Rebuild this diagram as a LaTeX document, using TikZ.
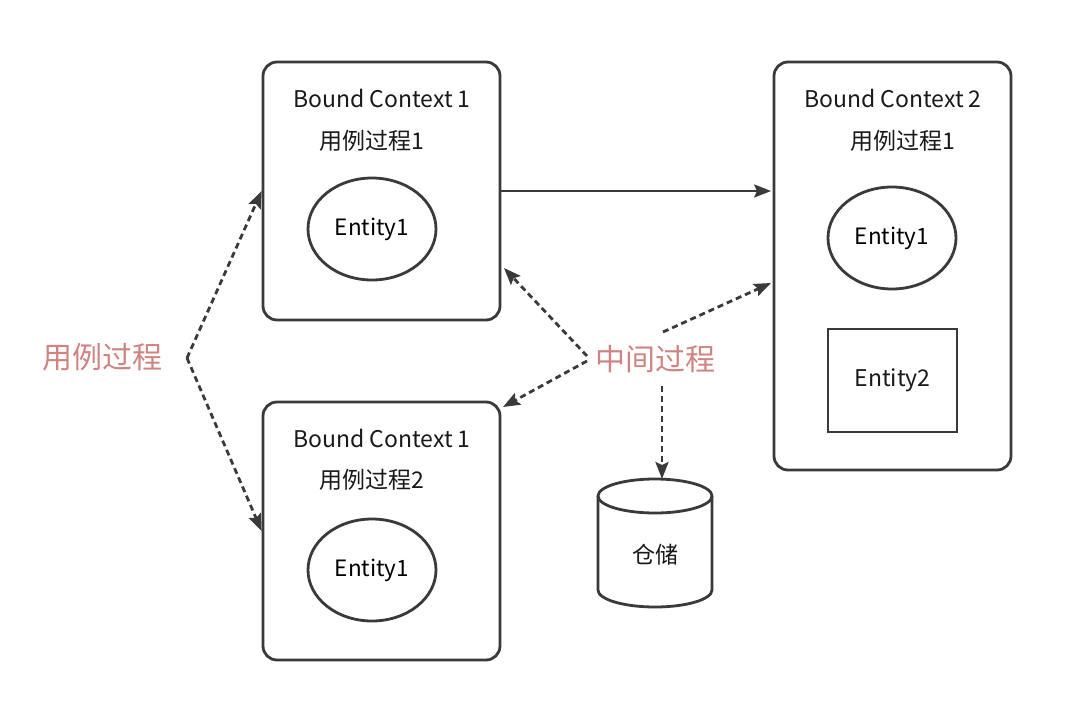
\documentclass[tikz,border=0pt]{standalone}
\usepackage{fontspec}
\setmainfont{Noto Sans CJK SC}
\usetikzlibrary{arrows.meta,calc,shapes.geometric}
\definecolor{ln}{RGB}{58,58,58}
\definecolor{pk}{RGB}{208,132,130}
\begin{document}
\begin{tikzpicture}[x=1pt,y=-1pt,
  ctxbox/.style={draw=ln,line width=2.8pt,rounded corners=14pt,minimum width=237pt,minimum height=258pt},
  ent/.style={draw=ln,line width=2.8pt,ellipse,minimum width=128pt,minimum height=102pt,font=\fontsize{22.5}{26}\selectfont},
  txt/.style={font=\fontsize{23}{26}\selectfont,text=black!90},
  lbl/.style={font=\fontsize{30}{34}\selectfont,text=pk},
  solidarrow/.style={draw=ln,line width=2.8pt,shorten >=1.5pt,-{Stealth[length=17pt,width=13pt,inset=3pt]}},
  dasharrow/.style={draw=ln,line width=2.8pt,dash pattern=on 6pt off 4pt,-{Stealth[length=17pt,width=13pt,inset=3pt]}}
]
\useasboundingbox (0,0) rectangle (1080,712);
\fill[white] (0,0) rectangle (1080,712);

% boxes
\node[ctxbox] (A) at (381.5,191) {};
\node[ctxbox] (B) at (381.5,531) {};
\node[ctxbox,minimum height=408pt] (C) at (892.5,266) {};

% texts in A
\node[txt] (A1) at (382,98) {Bound Context 1};
\node[txt] (A2) at (372,141) {用例过程1};
\node[ent] (AE) at (372,229) {Entity1};
% texts in B
\node[txt] (B1) at (382,438) {Bound Context 1};
\node[txt] (B2) at (372,480) {用例过程2};
\node[ent] (BE) at (372,570) {Entity1};
% texts in C
\node[txt] (C1) at (893,98) {Bound Context 2};
\node[txt] (C2) at (903,141) {用例过程1};
\node[ent] (CE) at (892,238) {Entity1};
\node[draw=ln,line width=2.8pt,minimum width=129pt,minimum height=103pt,txt] (CR) at (892.5,380.5) {Entity2};

% cylinder
\draw[ln,line width=2.8pt,fill=white] (598,496) -- (598,590) arc[start angle=180,end angle=0,x radius=57,y radius=17] -- (712,496);
\draw[ln,line width=2.8pt] (655,496) ellipse[x radius=57,y radius=17];
\node[txt] (S) at (655,555) {仓储};
\coordinate (Stop) at (662,479);

% labels
\node[lbl] (L1) at (102,357) {用例过程};
\node[lbl] (L2) at (655,359) {中间过程};

% connectors
\draw[solidarrow] (A.east) -- (A.east -| C.west);

\coordinate (uc) at (187,358);
\draw[dasharrow] (uc) -- (A.west);
\draw[dasharrow] (uc) -- (B.west);

\coordinate (m1) at (587,356);
\coordinate (m2) at (587,361);
\coordinate (m3) at (663,332);
\coordinate (m4) at (662,386);
\coordinate (Ain) at (504,268);
\coordinate (Bin) at (503,407);
\coordinate (Cin) at (771,283);
\draw[dasharrow] (m1) -- (Ain);
\draw[dasharrow] (m2) -- (Bin);
\draw[dasharrow] (m3) -- (Cin);
\draw[dasharrow] (m4) -- (Stop);
\end{tikzpicture}
\end{document}
